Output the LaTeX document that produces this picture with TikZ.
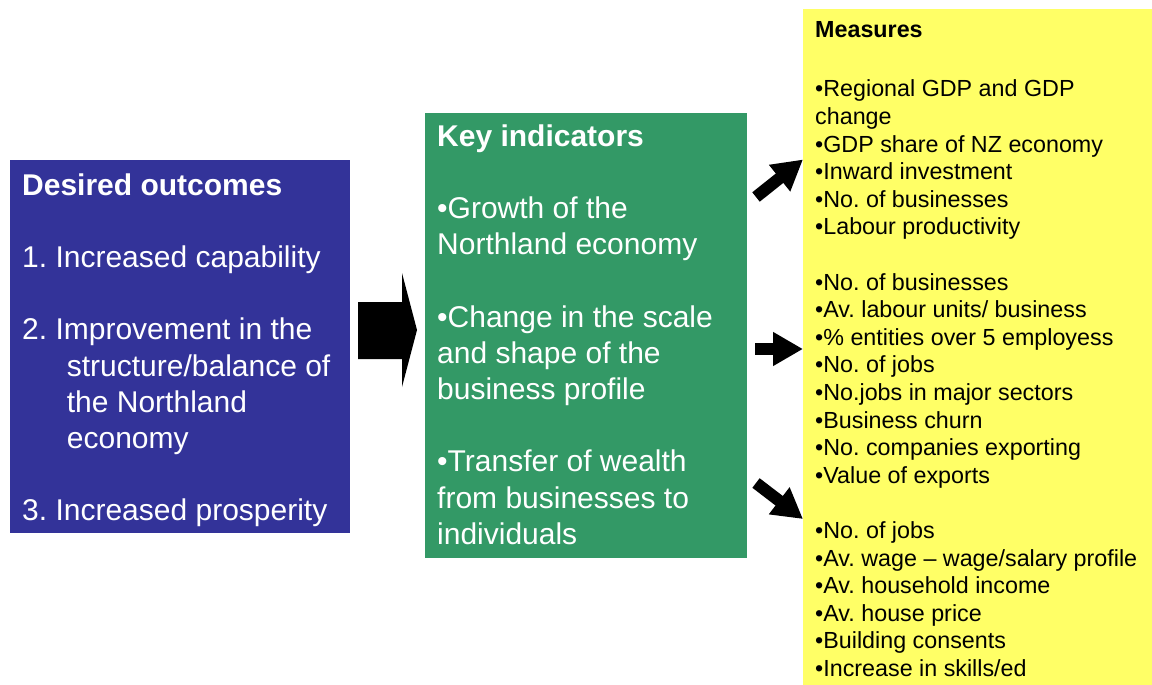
\documentclass[tikz,border=0pt]{standalone}
\usepackage{fontspec}
\setmainfont{Liberation Sans}
\usetikzlibrary{arrows.meta}
\definecolor{outblue}{RGB}{51,51,153}
\definecolor{indgreen}{RGB}{51,153,102}
\definecolor{measyellow}{RGB}{255,255,102}
\begin{document}
\frenchspacing
\begin{tikzpicture}[x=1pt,y=-1pt,
  panel/.style={inner sep=0pt, outer sep=0pt, anchor=north west, draw=none},
  bigtext/.style={inner sep=0pt, anchor=base west, align=left, text=white, font=\fontsize{30}{36.2}\selectfont},
  smalltext/.style={inner sep=0pt, anchor=base west, align=left, text=black, font=\fontsize{23.3}{27.6}\selectfont},
  thinarrow/.style={line width=12pt, -{Triangle[length=30pt,width=32pt]}}]
\useasboundingbox (0,0) rectangle (1152,685);
\fill[white] (0,0) rectangle (1152,685);
% panels
\node[panel, fill=outblue, minimum width=340pt, minimum height=373pt] (outcomes) at (10,160) {};
\node[panel, fill=indgreen, minimum width=322pt, minimum height=445pt] (indicators) at (425,113) {};
\node[panel, fill=measyellow, minimum width=349pt, minimum height=676pt] (measures) at (803,9) {};
% blue text (multi-line nodes are anchored at the baseline of their last line)
\node[bigtext, font=\fontsize{30}{36.2}\selectfont\bfseries] (outtitle) at (22,195) {Desired outcomes};
\node[bigtext] (outlist) at (22,520.8) {1. Increased capability\\[36.2pt]
2. Improvement in the\\
\hspace*{44.7pt}structure/balance of\\
\hspace*{44.7pt}the Northland\\
\hspace*{44.7pt}economy\\[36.2pt]
3. Increased prosperity};
% green text
\node[bigtext, font=\fontsize{30}{36.2}\selectfont\bfseries] (indtitle) at (437,146.7) {Key indicators};
\node[bigtext] (indlist) at (437,544.2) {•Growth of the\\
Northland economy\\[36.2pt]
•Change in the scale\\
and shape of the\\
business profile\\[36.2pt]
•Transfer of wealth\\
from businesses to\\
individuals};
% yellow text
\node[smalltext, font=\fontsize{23.3}{27.6}\selectfont\bfseries] (meastitle) at (815,37.7) {Measures};
\node[smalltext] (measlist) at (815,676.5) {•Regional GDP and GDP\\
change\\
•GDP share of NZ economy\\
•Inward investment\\
•No. of businesses\\
•Labour productivity\\[27.6pt]
•No. of businesses\\
•Av. labour units/ business\\
•\% entities over 5 employess\\
•No. of jobs\\
•No.jobs in major sectors\\
•Business churn\\
•No. companies exporting\\
•Value of exports\\[27.6pt]
•No. of jobs\\
•Av. wage – wage/salary profile\\
•Av. household income\\
•Av. house price\\
•Building consents\\
•Increase in skills/ed};
% big block arrow
\fill[black] (358,302) -- (402,302) -- (402,273) -- (417,330) -- (402,387) -- (402,359) -- (358,359) -- cycle;
% small arrows
\coordinate (t1) at (756,197);
\coordinate (h1) at (803,159.5);
\coordinate (t2) at (755,349);
\coordinate (h2) at (803,349);
\coordinate (t3) at (756,483);
\coordinate (h3) at (803,519);
\draw[thinarrow] (t1) -- (h1);
\draw[thinarrow] (t2) -- (h2);
\draw[thinarrow] (t3) -- (h3);
\end{tikzpicture}
\end{document}
